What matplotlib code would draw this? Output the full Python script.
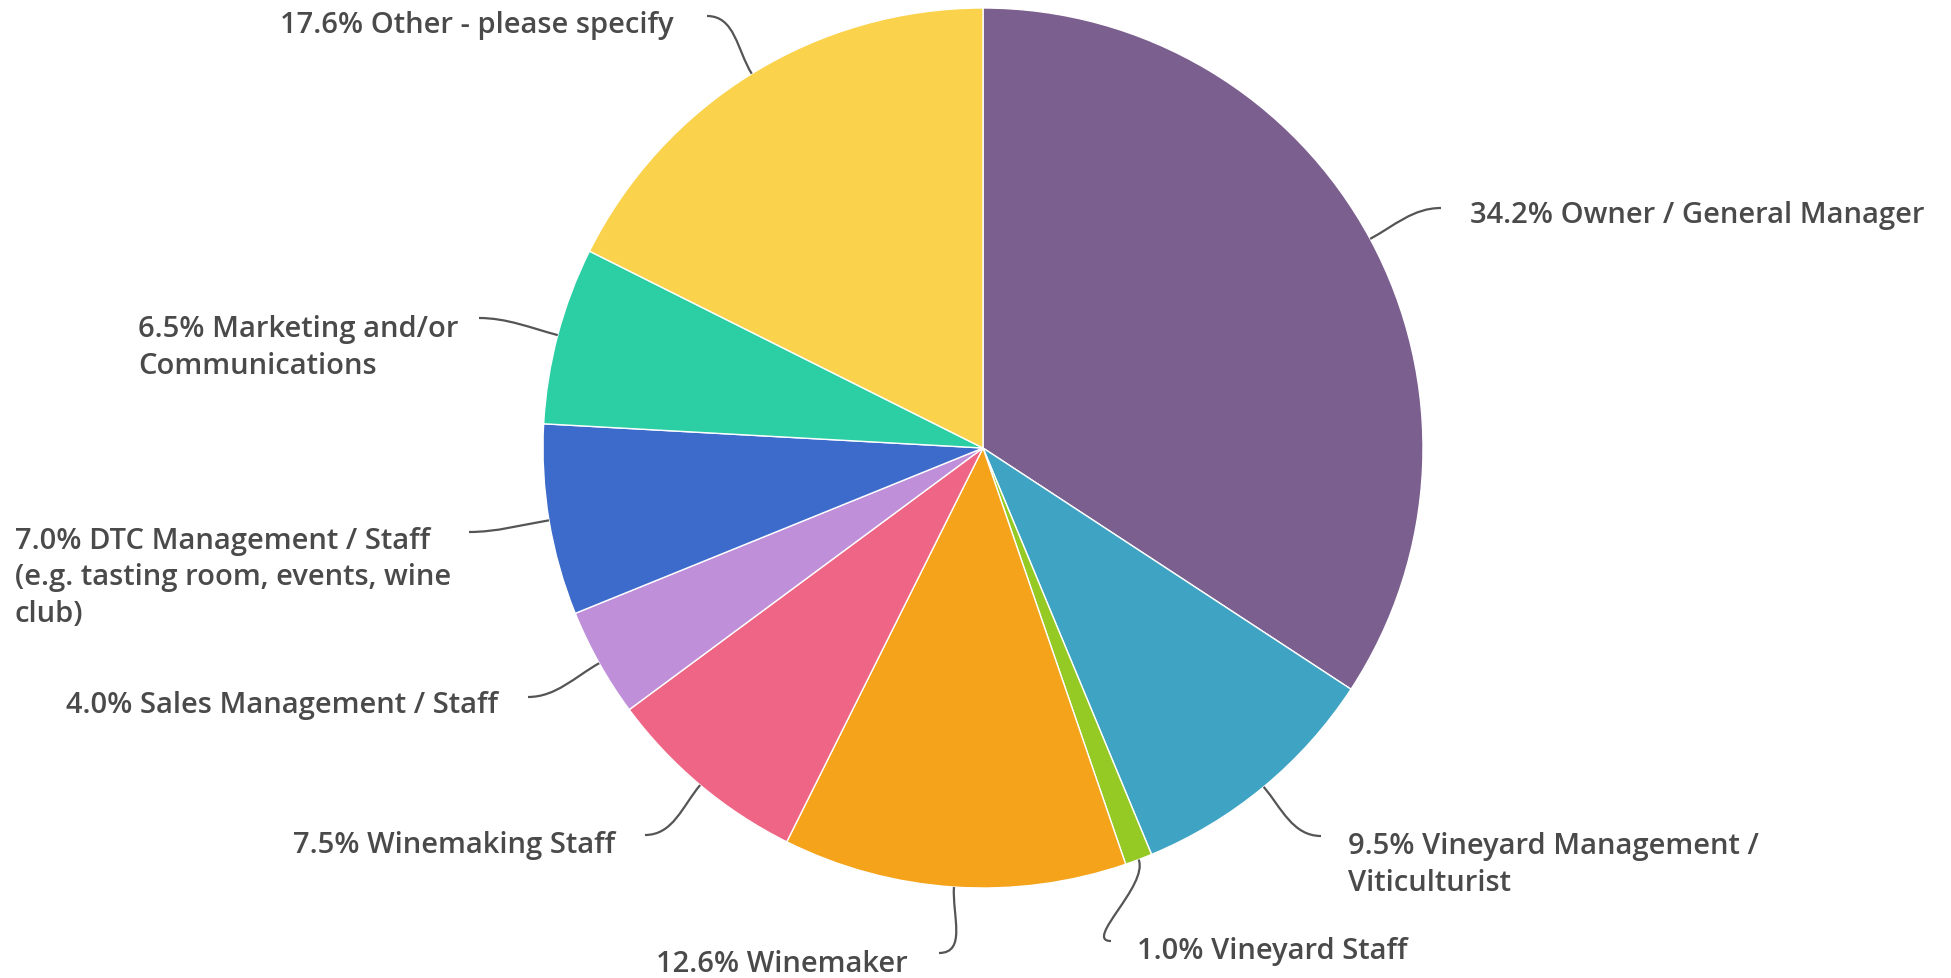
import numpy as np
import matplotlib.pyplot as plt
from matplotlib.path import Path
from matplotlib.patches import PathPatch

# Rollen der Umfrageteilnehmer (Anteile in %)
roles = [
    "Owner / General Manager",
    "Vineyard Management /\nViticulturist",
    "Vineyard Staff",
    "Winemaker",
    "Winemaking Staff",
    "Sales Management / Staff",
    "DTC Management / Staff\n(e.g. tasting room, events, wine\nclub)",
    "Marketing and/or\nCommunications",
    "Other - please specify",
]
shares = [34.2, 9.5, 1.0, 12.6, 7.5, 4.0, 7.0, 6.5, 17.6]
colors = ["#7B5F8E", "#3FA3C3", "#95C923", "#F4A31A", "#EF6585",
          "#BF8FDA", "#3D6BCB", "#2CCFA3", "#FAD24B"]

# Beschriftungen: Ende der Führungslinie und Textanker (Pixel, y von oben)
line_ends = [(1441, 209), (1321, 837), (1111, 942), (939, 954), (645, 836),
             (528, 698), (469, 533), (479, 319), (707, 17)]
text_pos = [(1470, 215, "left"), (1348, 865, "left"), (1137, 952, "left"),
            (908, 965, "right"), (615, 846, "right"), (498, 705, "right"),
            (15, 578, "left"), (138, 348, "left"), (674, 25, "right")]

W, H = 1951, 979
cx, cy, r = 983, H - 449, 440

plt.rcParams["font.family"] = ["Open Sans", "DejaVu Sans"]

fig = plt.figure(figsize=(W / 100, H / 100), dpi=100)
ax = fig.add_axes([0, 0, 1, 1])

wedges, _ = ax.pie(shares, colors=colors, startangle=90, counterclock=False,
                   center=(cx, cy), radius=r,
                   wedgeprops=dict(linewidth=1, edgecolor="white"))

ax.set_xlim(0, W)
ax.set_ylim(0, H)
ax.set_aspect("auto")
ax.axis("off")

k = 28  # Länge der Kontrollpunkte der Bezierkurve
for w, share, name, (ex, ey), (tx, ty, ha) in zip(wedges, shares, roles, line_ends, text_pos):
    mid = np.deg2rad((w.theta1 + w.theta2) / 2)
    x0, y0 = cx + r * np.cos(mid), cy + r * np.sin(mid)
    x3, y3 = ex, H - ey
    x1, y1 = x0 + k * np.cos(mid), y0 + k * np.sin(mid)
    side = 1 if ex > cx else -1
    x2, y2 = x3 - side * k, y3
    path = Path([(x0, y0), (x1, y1), (x2, y2), (x3, y3)],
                [Path.MOVETO, Path.CURVE4, Path.CURVE4, Path.CURVE4])
    ax.add_patch(PathPatch(path, fill=False, edgecolor="#555555", linewidth=1.6))

    ax.text(tx, H - ty, f"{share:.1f}% {name}", ha=ha, va="center",
            fontsize=21, color="#4a4a4a", linespacing=1.36, fontweight="semibold")

fig.savefig("out.png", dpi=100, facecolor="white")
